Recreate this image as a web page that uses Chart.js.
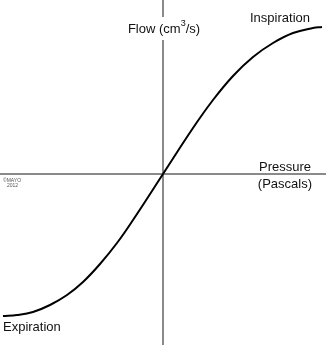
<!DOCTYPE html>
<html><head><meta charset="utf-8">
<script src="https://cdn.jsdelivr.net/npm/chart.js@4/dist/chart.umd.min.js"></script>
<style>html,body{margin:0;padding:0;background:#fff;}canvas{display:block;}</style>
</head><body>
<canvas id="c" width="327" height="345"></canvas>
<script>
// Pressure (x) and flow (y) values
const pressure = [-160,-146,-130,-113,-96,-80,-63,-46,-30,0,30,50,70,90,110,130,150,159];
const flow     = [-142,-141,-138,-131,-121,-108,-90,-69,-46,0,46,74,98,117,131,141,146,147];
const xRange = [-163, 164];
const yRange = [-171, 174];
const labels = {
  yAxis: 'Flow (cm',
  ySup: '3',
  yAxisEnd: '/s)',
  xAxis1: 'Pressure',
  xAxis2: '(Pascals)',
  top: 'Inspiration',
  bottom: 'Expiration',
  copy1: '©MAYO',
  copy2: '2012'
};

const curve = pressure.map((p, i) => ({x: p, y: flow[i]}));
const axisColor = '#8a8a8a';
const FONT = '"Liberation Sans", Arial, Helvetica, sans-serif';

const textPlugin = {
  id: 'texts',
  afterDatasetsDraw(chart) {
    const ctx = chart.ctx;
    ctx.save();
    ctx.textBaseline = 'middle';
    ctx.font = '13px ' + FONT;
    const w1 = ctx.measureText(labels.yAxis).width;
    ctx.font = '9px ' + FONT;
    const w2 = ctx.measureText(labels.ySup).width;
    ctx.font = '13px ' + FONT;
    const w3 = ctx.measureText(labels.yAxisEnd).width;
    const total = w1 + w2 + w3;
    const cx = chart.scales.x.getPixelForValue(0);
    let sx = cx - total / 2 + 1;
    const fy = 29;
    ctx.fillStyle = '#fff';
    ctx.fillRect(sx - 2, 17, total + 4, 23);
    ctx.fillStyle = '#111';
    ctx.textAlign = 'left';
    ctx.fillText(labels.yAxis, sx, fy);
    ctx.font = '9px ' + FONT;
    ctx.fillText(labels.ySup, sx + w1, fy - 5);
    ctx.font = '13px ' + FONT;
    ctx.fillText(labels.yAxisEnd, sx + w1 + w2, fy);

    ctx.fillText(labels.top, 250, 18);
    ctx.fillText(labels.bottom, 3, 327);
    ctx.textAlign = 'right';
    ctx.fillText(labels.xAxis1, 311, 167);
    ctx.fillText(labels.xAxis2, 312, 184);

    ctx.textAlign = 'left';
    ctx.font = '5px ' + FONT;
    ctx.fillStyle = '#555';
    ctx.fillText(labels.copy1, 3, 181);
    ctx.fillText(labels.copy2, 7, 186);
    ctx.restore();
  }
};

new Chart(document.getElementById('c'), {
  type: 'scatter',
  data: {
    datasets: [
      {
        data: [{x: 0, y: yRange[0]}, {x: 0, y: yRange[1]}],
        showLine: true, borderColor: axisColor, borderWidth: 2, pointRadius: 0, order: 3
      },
      {
        data: [{x: xRange[0], y: 0}, {x: xRange[1] - 1, y: 0}],
        showLine: true, borderColor: axisColor, borderWidth: 2, pointRadius: 0, order: 2
      },
      {
        data: curve,
        showLine: true, borderColor: '#000', borderWidth: 2, pointRadius: 0,
        tension: 0.4, order: 1
      }
    ]
  },
  options: {
    responsive: false,
    animation: false,
    layout: {padding: 0},
    plugins: {legend: {display: false}, tooltip: {enabled: false}},
    scales: {
      x: {type: 'linear', display: false, min: xRange[0], max: xRange[1]},
      y: {type: 'linear', display: false, min: yRange[0], max: yRange[1]}
    }
  },
  plugins: [textPlugin]
});
</script>
</body></html>
